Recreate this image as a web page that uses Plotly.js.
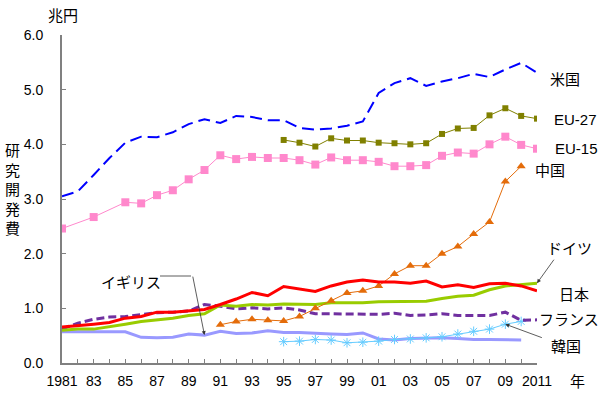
<!DOCTYPE html>
<html><head><meta charset="utf-8">
<script src="https://cdn.plot.ly/plotly-3.0.1.min.js"></script>
<style>html,body{margin:0;padding:0;background:#fff}#chart{width:600px;height:395px}</style>
</head><body><div id="chart"></div>
<script>
const years = [];
for (let y = 1981; y <= 2011; y++) years.push(y);
const tickVals = [1981,1983,1985,1987,1989,1991,1993,1995,1997,1999,2001,2003,2005,2007,2009,2011];
const tickText = ['1981','83','85','87','89','91','93','95','97','99','01','03','05','07','09','2011'];

const N = null;
// 兆円, 1981..2011
const usa   = [3.05,3.14,3.44,3.75,4.03,4.14,4.13,4.22,4.37,4.46,4.39,4.52,4.50,4.44,4.44,4.30,4.27,4.29,4.34,4.42,4.94,5.12,5.21,5.07,5.15,5.21,5.29,5.23,5.37,5.49,5.31];
const eu27  = [N,N,N,N,N,N,N,N,N,N,N,N,N,N,4.08,4.03,3.96,4.11,4.07,4.07,4.03,4.02,4.00,4.02,4.19,4.29,4.30,4.53,4.66,4.52,4.47];
const eu15  = [2.46,N,2.67,N,2.94,2.92,3.07,3.16,3.36,3.53,3.80,3.73,3.77,3.75,3.75,3.71,3.63,3.76,3.71,3.71,3.68,3.60,3.60,3.62,3.79,3.85,3.83,4.00,4.14,3.99,3.92];
const china = [N,N,N,N,N,N,N,N,N,N,0.70,0.76,0.80,0.78,0.77,0.85,1.00,1.14,1.28,1.32,1.41,1.63,1.78,1.78,2.00,2.13,2.36,2.58,3.32,3.60,N];
const japan = [0.66,0.68,0.71,0.74,0.82,0.85,0.93,0.93,0.95,0.98,1.07,1.17,1.29,1.23,1.40,1.35,1.31,1.41,1.48,1.52,1.48,1.48,1.46,1.50,1.39,1.43,1.38,1.45,1.46,1.41,1.32];
const germany=[0.60,0.62,0.62,0.66,0.71,0.76,0.79,0.82,0.87,0.90,1.06,1.04,1.07,1.06,1.08,1.08,1.07,1.10,1.10,1.10,1.12,1.12,1.12,1.13,1.18,1.22,1.24,1.34,1.41,1.43,1.46];
const france= [0.62,0.73,0.80,0.84,0.85,0.88,0.92,0.93,0.95,1.07,1.04,0.99,1.01,0.99,1.01,0.97,0.90,0.90,0.90,0.89,0.89,0.91,0.87,0.88,0.90,0.87,0.87,0.87,0.93,0.78,0.79];
const uk    = [0.57,0.57,0.57,0.57,0.57,0.47,0.46,0.47,0.53,0.51,0.58,0.54,0.55,0.59,0.56,0.56,0.54,0.53,0.52,0.55,0.44,0.42,0.45,0.46,0.46,0.45,0.43,0.43,0.43,0.42,N];
const korea = [N,N,N,N,N,N,N,N,N,N,N,N,N,N,0.39,0.40,0.43,0.42,0.37,0.38,0.40,0.43,0.44,0.46,0.48,0.53,0.58,0.62,0.71,0.76,N];

const tr = (y, line, marker) => {
  const t = {x: years, y: y, type:'scatter', mode: marker ? 'lines+markers' : 'lines', line: line, connectgaps: true, hoverinfo:'skip', showlegend:false};
  if (marker) t.marker = marker;
  return t;
};
const data = [
  tr(uk, {color:'#9999ff', width:3}),
  tr(korea, {color:'#66ccff', width:1}, {symbol:'asterisk-open', size:8, color:'#66ccff', line:{color:'#66ccff', width:1}}),
  tr(france, {color:'#7030a0', width:3, dash:'8px,4px'}),
  tr(germany, {color:'#99cc00', width:3}),
  tr(china, {color:'#e46c0a', width:1}, {symbol:'triangle-up', size:8, color:'#e46c0a'}),
  tr(japan, {color:'#ff0000', width:3}),
  tr(eu15, {color:'#ff88cc', width:1}, {symbol:'square', size:8, color:'#ff88cc'}),
  tr(eu27, {color:'#808000', width:1}, {symbol:'square', size:6, color:'#808000'}),
  tr(usa, {color:'#0000ff', width:2, dash:'12px,6px'})
];

const jp = '"Noto Sans CJK JP", sans-serif';
const px = v => (v - 62) / 475;
const py = v => (363 - v) / 328;
const lab = (t, x, y, fam) => ({text:t, xref:'paper', yref:'paper', x:px(x), y:py(y), xanchor:'center', yanchor:'middle', showarrow:false, font:{family: fam || jp, size:15, color:'#000'}});
const arr = (x, y, ax, ay) => ({text:'', xref:'x', yref:'y', x:x, y:y, ax:ax, ay:ay, showarrow:true, arrowhead:2, arrowsize:1, arrowwidth:0.8, arrowcolor:'#333', standoff:0});

const annotations = [
  lab('兆円', 63, 14),
  lab('研<br>究<br>開<br>発<br>費', 12, 188),
  lab('年', 577, 380),
  lab('米国', 565, 78),
  lab('EU-27', 575, 119, 'Arial, "Liberation Sans", sans-serif'),
  lab('EU-15', 576, 148, 'Arial, "Liberation Sans", sans-serif'),
  lab('中国', 550, 169),
  lab('ドイツ', 569, 247),
  lab('日本', 574, 293),
  lab('フランス', 569, 318),
  lab('韓国', 566, 345),
  lab('イギリス', 131, 281),
  arr(2011, 1.46, 18, -25),
  arr(2011.15, 1.32, 19, 2),
  arr(2009, 0.71, 38, 14),
  arr(1990, 0.51, -12, -60)
];

const layout = {
  width:600, height:395,
  margin:{l:62, r:63, t:35, b:32},
  paper_bgcolor:'#fff', plot_bgcolor:'#fff',
  font:{family:'"Liberation Sans Narrow", "Arial Narrow", Arial, sans-serif', size:14, color:'#000'},
  xaxis:{range:[1981,2011], tickvals:tickVals, ticktext:tickText, ticks:'inside', ticklen:4, tickcolor:'#808080', tickwidth:1,
         minor:{dtick:1, ticks:'inside', ticklen:4, tickcolor:'#808080', tickwidth:1, showgrid:false},
         showline:true, linecolor:'#808080', linewidth:2, showgrid:false, zeroline:false, ticklabelstandoff:4,
         tickfont:{size:14}},
  yaxis:{range:[0,6], dtick:1, tickformat:'.1f', ticks:'inside', ticklen:4, tickcolor:'#808080', tickwidth:1,
         showline:true, linecolor:'#808080', linewidth:2, showgrid:false, zeroline:false, ticklabelstandoff:14,
         tickfont:{size:14}},
  shapes:[{type:'line', xref:'paper', yref:'paper', x0:px(160), y0:py(276), x1:px(191), y1:py(276), line:{color:'#333', width:0.8}}],
  annotations: annotations
};
Plotly.newPlot('chart', data, layout, {staticPlot:true});
</script></body></html>
